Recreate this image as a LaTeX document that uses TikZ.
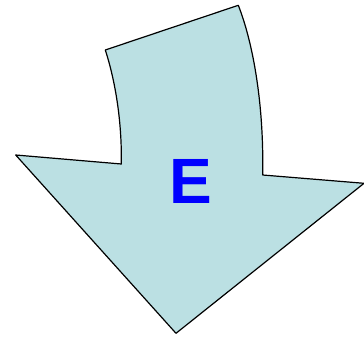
\documentclass[tikz,border=0pt]{standalone}
\usepackage{fontspec}
\setmainfont{Liberation Sans}
\definecolor{arrowfill}{RGB}{187,224,227}
\begin{document}
\begin{tikzpicture}[x=1pt,y=-1pt, line join=round, line cap=round]
	\useasboundingbox (0,0) rectangle (364,337);
	\draw[fill=arrowfill, line width=1.2pt] (105.3,50)--(238.3,5.3) .. controls (252,40) and (264,100) .. (262.7,175)--(364,183.3)--(176,333.3)--(15.7,155)--(121.3,164) .. controls (122,120) and (115,80) .. cycle;
	\node[text=blue, font=\fontsize{64}{64}\selectfont\bfseries, inner sep=0pt] (lbl) at (191,181) {E};
\end{tikzpicture}
\end{document}
